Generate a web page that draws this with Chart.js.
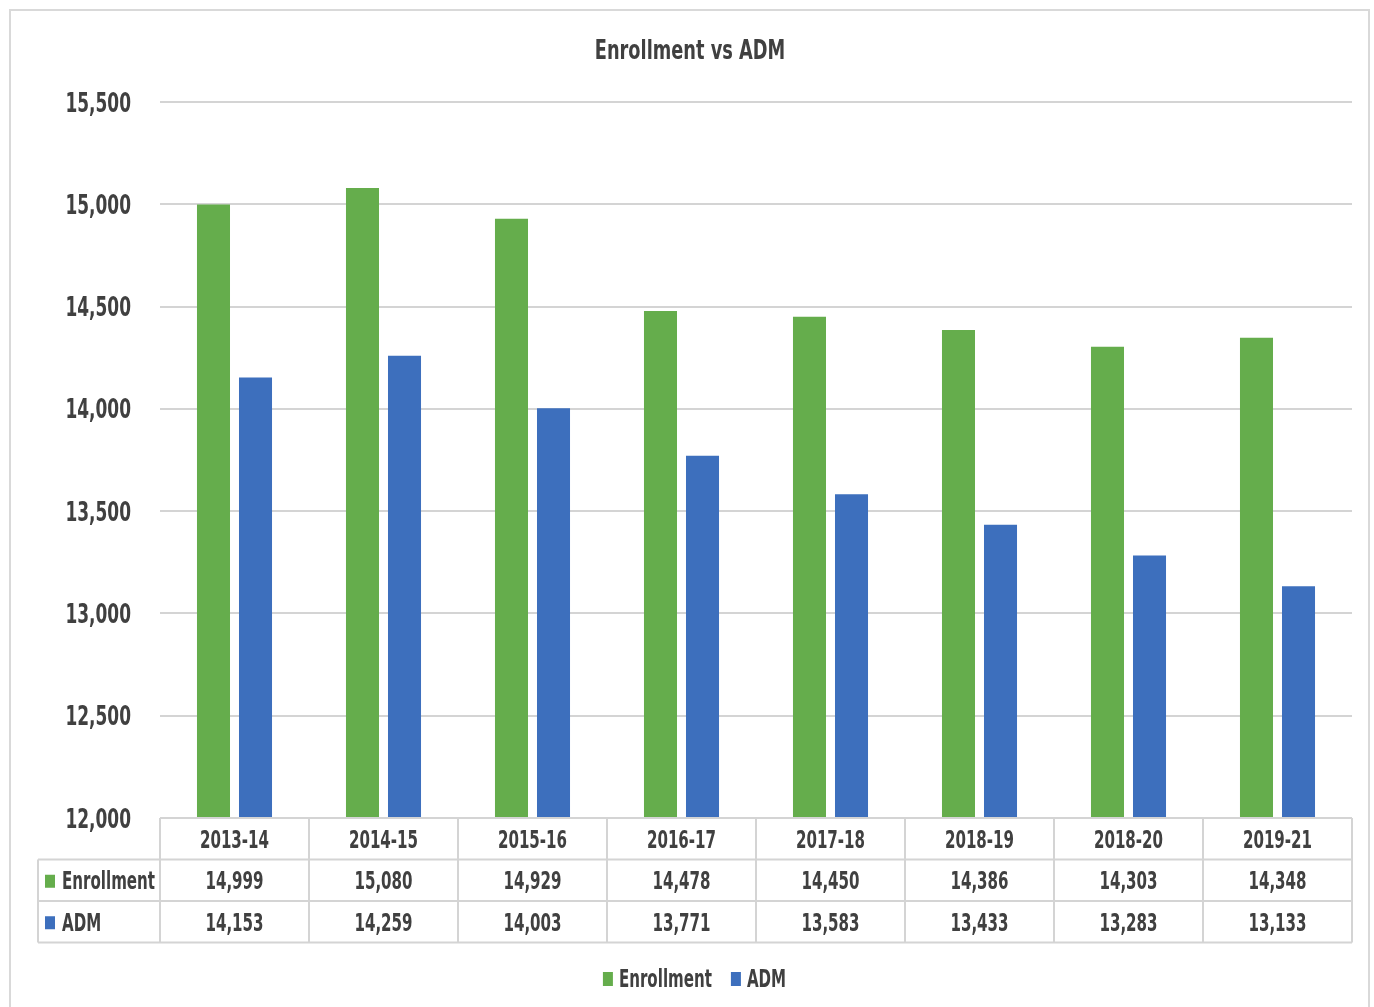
<!DOCTYPE html>
<html>
<head>
<meta charset="utf-8">
<title>Enrollment vs ADM</title>
<script src="https://cdn.jsdelivr.net/npm/chart.js@4.4.1/dist/chart.umd.min.js"></script>
<style>
  html, body { margin: 0; padding: 0; background: #fff; overflow: hidden; }
  #frame {
    position: absolute; left: 9px; top: 9px;
    width: 1361px; height: 1020px;
    border: 2px solid #d9d9d9; box-sizing: border-box;
  }
  #chart { position: absolute; left: 0; top: 0; }
</style>
</head>
<body>
<div id="frame"></div>
<canvas id="chart" width="1374" height="1007"></canvas>
<script>
// 数据
const years = ["2013-14", "2014-15", "2015-16", "2016-17", "2017-18", "2018-19", "2018-20", "2019-21"];
const enrollment = [14999, 15080, 14929, 14478, 14450, 14386, 14303, 14348];
const adm = [14153, 14259, 14003, 13771, 13583, 13433, 13283, 13133];
const yTicks = [12000, 12500, 13000, 13500, 14000, 14500, 15000, 15500];
const chartTitle = "Enrollment vs ADM";

const FONT = '"DejaVu Sans Condensed", "DejaVu Sans", sans-serif';
const TEXT_COLOR = "#404040";
const LINE_COLOR = "#d4d4d4";

function fmt(v) {
  return v.toLocaleString("en-US");
}

// 画窄体文字，squeeze 为横向压缩比例
function drawText(ctx, text, x, y, size, align, squeeze) {
  const k = squeeze || 0.67;
  ctx.font = "bold " + size + "px " + FONT;
  ctx.textAlign = align || "center";
  ctx.textBaseline = "middle";
  const w = ctx.measureText(text).width;
  ctx.fillText(text, x, y, w * k);
  return w * k;
}

// 标题、纵轴文字、下方数据表、图例
const dataTablePlugin = {
  id: "dataTable",
  afterDraw(chart) {
    const ctx = chart.ctx;
    const area = chart.chartArea;
    const x = chart.scales.x;
    const y = chart.scales.y;
    const rowH = 41.5;
    const left = 38;
    const top = area.bottom;
    const colW = (area.right - area.left) / years.length;

    ctx.save();

    // 标题
    ctx.fillStyle = TEXT_COLOR;
    drawText(ctx, chartTitle, 690, 52, 26, "center", 0.76);

    // 纵轴刻度文字
    yTicks.forEach(function (v) {
      drawText(ctx, fmt(v), area.left - 29, y.getPixelForValue(v) + 2.5, 27, "right", 0.70);
    });

    // 表格线
    ctx.strokeStyle = LINE_COLOR;
    ctx.lineWidth = 2;
    ctx.beginPath();
    ctx.moveTo(area.left, top);
    ctx.lineTo(area.right, top);
    for (let r = 1; r <= 3; r++) {
      ctx.moveTo(left, top + rowH * r);
      ctx.lineTo(area.right, top + rowH * r);
    }
    ctx.moveTo(left, top + rowH);
    ctx.lineTo(left, top + rowH * 3);
    for (let i = 0; i <= years.length; i++) {
      const px = area.left + colW * i;
      ctx.moveTo(px, top);
      ctx.lineTo(px, top + rowH * 3);
    }
    ctx.stroke();

    years.forEach(function (label, i) {
      drawText(ctx, label, x.getPixelForValue(i), top + rowH * 0.5 + 3, 25);
    });

    chart.data.datasets.forEach(function (ds, d) {
      const cy = top + rowH * (d + 1.5) + 2.5;
      ctx.fillStyle = TEXT_COLOR;
      ds.data.forEach(function (v, i) {
        drawText(ctx, fmt(v), x.getPixelForValue(i), cy, 25);
      });
      // 行首图例
      ctx.fillStyle = ds.backgroundColor;
      ctx.fillRect(left + 7, cy - 8, 10, 13);
      ctx.fillStyle = TEXT_COLOR;
      drawText(ctx, ds.label, left + 24, cy, 25, "left");
    });

    // 底部图例
    const legendY = 980;
    ctx.font = "bold 25px " + FONT;
    const items = chart.data.datasets.map(function (ds) {
      return { label: ds.label, color: ds.backgroundColor, w: ctx.measureText(ds.label).width * 0.67 };
    });
    const gap = 19;
    let total = 0;
    items.forEach(function (it, i) {
      total += 16 + it.w + (i < items.length - 1 ? gap : 0);
    });
    let lx = 694.5 - total / 2;
    items.forEach(function (it) {
      ctx.fillStyle = it.color;
      ctx.fillRect(lx, legendY - 8, 10, 14);
      ctx.fillStyle = TEXT_COLOR;
      drawText(ctx, it.label, lx + 16, legendY, 25, "left");
      lx += 16 + it.w + gap;
    });
    ctx.restore();
  }
};

new Chart(document.getElementById("chart"), {
  type: "bar",
  data: {
    labels: years,
    datasets: [
      {
        label: "Enrollment",
        data: enrollment,
        backgroundColor: "#65ad4c",
        categoryPercentage: 0.564,
        barPercentage: 0.786
      },
      {
        label: "ADM",
        data: adm,
        backgroundColor: "#3d6fbd",
        categoryPercentage: 0.564,
        barPercentage: 0.786
      }
    ]
  },
  options: {
    responsive: false,
    animation: false,
    layout: {
      padding: { top: 102, left: 0, right: 22, bottom: 189 }
    },
    plugins: {
      legend: { display: false },
      tooltip: { enabled: false },
      title: { display: false }
    },
    scales: {
      x: {
        display: false
      },
      y: {
        min: 12000,
        max: 15500,
        afterFit(scale) {
          scale.width = 160;
        },
        afterBuildTicks(scale) {
          scale.ticks = yTicks.map(function (v) { return { value: v }; });
        },
        border: { display: false },
        grid: { color: LINE_COLOR, lineWidth: 2, drawTicks: false },
        ticks: { display: false }
      }
    }
  },
  plugins: [dataTablePlugin]
});
</script>
</body>
</html>
